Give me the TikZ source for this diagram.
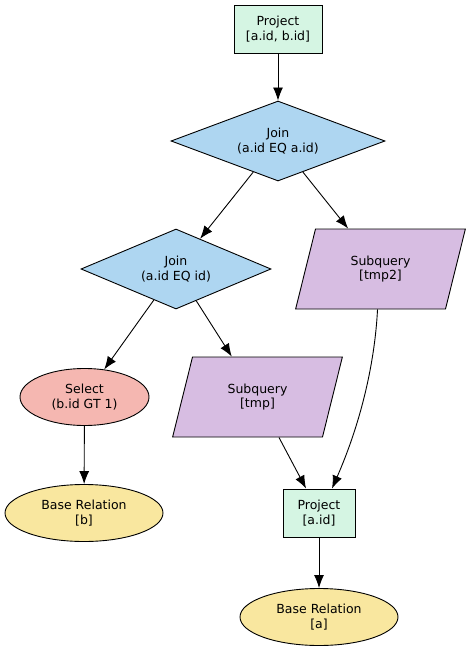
\documentclass[tikz,border=0pt]{standalone}
\usepackage{fontspec}
\setmainfont{DejaVu Sans}
\usepackage{xcolor}
\usepackage{tikz}
\usetikzlibrary{shapes.geometric, arrows.meta}

\definecolor{projgreen}{HTML}{D5F5E3}
\definecolor{joinblue}{HTML}{AED6F1}
\definecolor{subpurple}{HTML}{D7BDE2}
\definecolor{selred}{HTML}{F5B7B1}
\definecolor{baseyellow}{HTML}{F9E79F}

\begin{document}
\begin{tikzpicture}[x=1pt, y=-1pt, arrow/.style = {line width=0.9pt,-{Latex[length=13pt,width=10pt]}}]
		\tikzset{op/.style={draw=black, line width=0.9pt, inner sep=0pt, align=center, font=\fontsize{12.5}{14.5}\selectfont}}
		\tikzset{projbox/.style={op, rectangle, fill=projgreen, minimum height=48pt}}
		\tikzset{joinbox/.style={op, diamond, aspect=2.6, fill=joinblue, minimum height=80pt}}
		\tikzset{subqbox/.style={op, trapezium, trapezium left angle=71, trapezium right angle=109, trapezium stretches=true, fill=subpurple, minimum width=171pt, minimum height=80pt}}
		\tikzset{relbox/.style={op, ellipse, minimum height=57pt}}

		\useasboundingbox (0,0) rectangle (472,652);

		% Projects
		\node[projbox, minimum width=88pt] (projab) at (278,29) {Project\\{[a.id, b.id]}};

		\node[projbox, minimum width=72pt] (proja) at (319,513) {Project\\{[a.id]}};

		% Joins
		\node[joinbox, minimum width=214pt] (joinaa) at (278,141) {Join\\(a.id EQ a.id)};

		\node[joinbox, minimum width=190pt] (joinid) at (176,269) {Join\\(a.id EQ id)};

		% Subqueries
		\node[subqbox] (tmptwo) at (380.5,269) {Subquery\\{[tmp2]}};

		\node[subqbox] (tmp) at (257.5,397) {Subquery\\{[tmp]}};

		% Select
		\node[relbox, fill=selred, minimum width=129pt] (select) at (84.5,397) {Select\\(b.id GT 1)};

		% Base relations
		\node[relbox, fill=baseyellow, minimum width=158pt] (baseb) at (84,513) {Base Relation\\{[b]}};

		\node[relbox, fill=baseyellow, minimum width=158pt] (basea) at (319,617) {Base Relation\\{[a]}};

		% Arrows
		\draw [arrow] (projab) -- (joinaa);
		\draw [arrow] (joinaa) -- (joinid);
		\draw [arrow] (joinaa) -- (tmptwo);
		\draw [arrow] (joinid) -- (select);
		\draw [arrow] (joinid) -- (tmp);
		\draw [arrow] (select) -- (baseb);
		\draw [arrow] (tmp) -- (proja);
		\draw [arrow] ([xshift=-3pt]tmptwo.south) .. controls (375,360) and (362,420) .. ([xshift=13pt]proja.north);
		\draw [arrow] (proja) -- (basea);

	\end{tikzpicture}
\end{document}
